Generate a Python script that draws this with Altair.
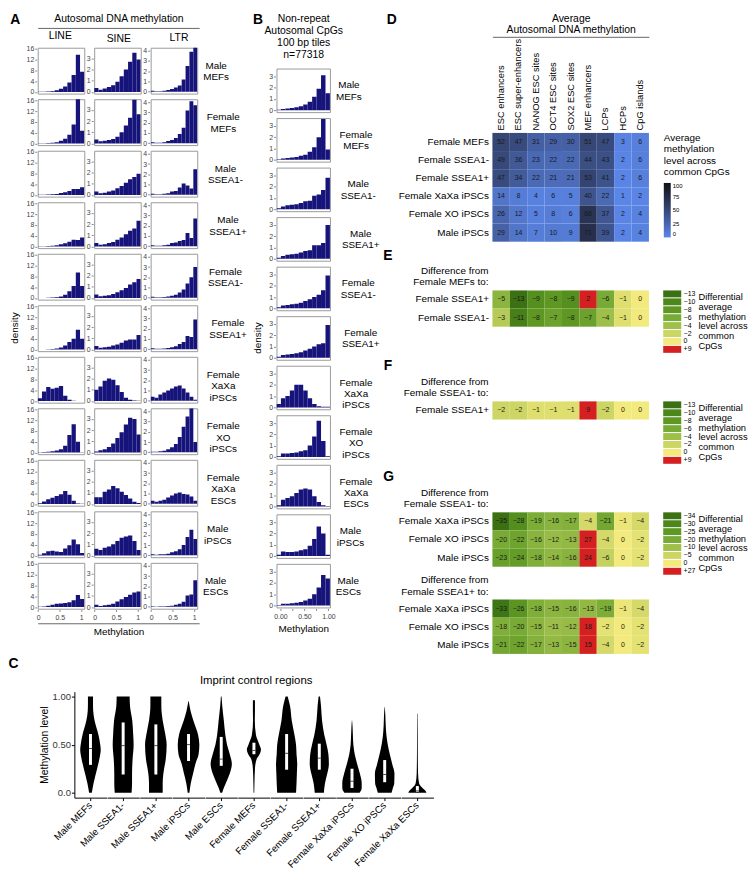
import altair as alt
import numpy as np
import pandas as pd

FONT = "Liberation Sans"
NAVY = "#16137a"

SAMPLES = ["Male MEFs", "Female MEFs", "Male SSEA1-", "Male SSEA1+", "Female SSEA1-",
           "Female SSEA1+", "Female XaXa iPSCs", "Female XO iPSCs", "Female XaXa ESCs",
           "Male iPSCs", "Male ESCs"]

# ---------------- Panel A : histogram heights (density) ----------------
LINE_D = {
    "Male MEFs":         [0.1, 0.1, 0.2, 0.3, 0.6, 1.2, 2.0, 3.5, 6.3, 13.8, 7.5],
    "Female MEFs":       [0.1, 0.1, 0.2, 0.3, 0.5, 1.0, 1.8, 3.2, 7.0, 17.5, 4.7],
    "Male SSEA1-":       [0.1, 0.1, 0.2, 0.3, 0.4, 0.7, 1.0, 1.5, 2.2, 2.2, 2.9],
    "Male SSEA1+":       [0.1, 0.1, 0.2, 0.3, 0.5, 0.8, 1.2, 1.8, 2.5, 2.4, 3.3],
    "Female SSEA1-":     [0.05, 0.05, 0.1, 0.2, 0.3, 0.6, 1.2, 2.5, 4.5, 9.5, 4.5],
    "Female SSEA1+":     [0.05, 0.05, 0.1, 0.2, 0.4, 0.8, 1.5, 2.8, 4.0, 7.3, 4.0],
    "Female XaXa iPSCs": [1.0, 3.5, 5.2, 4.6, 4.9, 5.6, 2.0, 0.5, 0.1, 0.05, 0.02],
    "Female XO iPSCs":   [0.1, 0.2, 0.3, 0.5, 0.8, 1.2, 2.5, 6.5, 10.5, 4.0, 0.1],
    "Female XaXa ESCs":  [0.3, 1.0, 1.8, 2.3, 3.0, 3.6, 4.8, 3.5, 1.2, 0.2, 0.1],
    "Male iPSCs":        [0.3, 0.9, 1.6, 1.8, 1.5, 1.3, 2.6, 3.8, 6.0, 4.2, 1.0],
    "Male ESCs":         [0.1, 0.2, 0.5, 0.9, 1.2, 1.3, 1.5, 1.8, 2.5, 4.5, 3.0],
}
SINE_D = {
    "Male MEFs":         [0.35, 0.2, 0.3, 0.45, 0.6, 0.9, 1.4, 2.0, 2.7, 3.5, 2.9],
    "Female MEFs":       [0.35, 0.2, 0.25, 0.3, 0.4, 0.6, 1.0, 1.6, 2.3, 3.9, 2.6],
    "Male SSEA1-":       [0.3, 0.15, 0.2, 0.3, 0.4, 0.6, 0.8, 1.1, 1.4, 1.6, 1.9],
    "Male SSEA1+":       [0.3, 0.15, 0.2, 0.3, 0.4, 0.6, 0.8, 1.1, 1.4, 1.6, 2.3],
    "Female SSEA1-":     [0.3, 0.15, 0.2, 0.25, 0.35, 0.5, 0.7, 0.9, 1.2, 1.4, 1.7],
    "Female SSEA1+":     [0.3, 0.15, 0.2, 0.25, 0.35, 0.45, 0.6, 0.8, 0.9, 0.9, 1.3],
    "Female XaXa iPSCs": [1.0, 1.3, 1.8, 2.0, 1.9, 1.4, 0.8, 0.3, 0.1, 0.05, 0.02],
    "Female XO iPSCs":   [0.1, 0.2, 0.3, 0.5, 0.8, 1.3, 1.8, 2.5, 3.1, 3.0, 1.6],
    "Female XaXa ESCs":  [0.6, 0.6, 1.1, 1.3, 1.6, 1.4, 1.1, 0.8, 0.5, 0.2, 0.1],
    "Male iPSCs":        [0.6, 0.5, 0.7, 0.8, 1.0, 1.3, 1.6, 1.7, 1.8, 1.3, 0.5],
    "Male ESCs":         [0.2, 0.1, 0.15, 0.2, 0.3, 0.5, 0.7, 0.9, 1.1, 1.3, 1.4],
}
LTR_D = {
    "Male MEFs":         [0.1, 0.05, 0.05, 0.1, 0.15, 0.25, 0.4, 0.6, 1.2, 2.5, 3.9, 4.5],
    "Female MEFs":       [0.1, 0.05, 0.05, 0.1, 0.2, 0.3, 0.5, 0.9, 1.5, 3.2, 4.1, 3.7],
    "Male SSEA1-":       [0.1, 0.05, 0.05, 0.1, 0.15, 0.3, 0.35, 0.7, 1.1, 0.9, 0.6, 2.5],
    "Male SSEA1+":       [0.1, 0.05, 0.05, 0.1, 0.15, 0.3, 0.35, 0.5, 0.6, 1.3, 0.8, 2.7],
    "Female SSEA1-":     [0.1, 0.05, 0.05, 0.08, 0.12, 0.2, 0.3, 0.5, 0.8, 1.4, 2.0, 3.0],
    "Female SSEA1+":     [0.1, 0.05, 0.05, 0.08, 0.12, 0.2, 0.3, 0.5, 0.7, 1.3, 1.2, 2.9],
    "Female XaXa iPSCs": [0.4, 0.3, 0.6, 0.8, 1.0, 1.2, 1.4, 1.5, 1.2, 0.8, 0.4, 0.1],
    "Female XO iPSCs":   [0.05, 0.05, 0.1, 0.15, 0.3, 0.5, 0.8, 1.5, 2.5, 3.5, 4.3, 1.0],
    "Female XaXa ESCs":  [0.3, 0.2, 0.3, 0.4, 0.6, 0.8, 1.0, 1.1, 0.95, 0.9, 0.7, 0.3],
    "Male iPSCs":        [0.1, 0.05, 0.1, 0.1, 0.15, 0.3, 0.4, 0.6, 1.0, 1.8, 2.5, 1.6],
    "Male ESCs":         [0.05, 0.03, 0.05, 0.05, 0.08, 0.1, 0.2, 0.3, 0.5, 1.1, 1.2, 2.6],
}
# ---------------- Panel B ----------------
NONREP_D = {
    "Male MEFs":         [0.05, 0.1, 0.15, 0.2, 0.25, 0.35, 0.5, 0.75, 1.2, 1.9, 3.1, 1.5],
    "Female MEFs":       [0.05, 0.1, 0.15, 0.2, 0.25, 0.35, 0.45, 0.7, 1.1, 2.0, 3.6, 0.9],
    "Male SSEA1-":       [0.1, 0.25, 0.35, 0.4, 0.45, 0.55, 0.7, 0.75, 1.2, 1.3, 1.7, 2.8],
    "Male SSEA1+":       [0.1, 0.25, 0.35, 0.4, 0.45, 0.55, 0.7, 0.75, 1.2, 1.2, 1.4, 3.0],
    "Female SSEA1-":     [0.1, 0.25, 0.3, 0.35, 0.4, 0.5, 0.65, 0.8, 1.0, 1.2, 1.6, 2.9],
    "Female SSEA1+":     [0.1, 0.25, 0.3, 0.35, 0.4, 0.5, 0.65, 0.8, 1.0, 1.2, 1.3, 2.9],
    "Female XaXa iPSCs": [0.3, 0.8, 1.0, 1.5, 2.0, 2.0, 1.5, 0.8, 0.3, 0.1, 0.05, 0.05],
    "Female XO iPSCs":   [0.05, 0.3, 0.3, 0.35, 0.4, 0.5, 0.6, 1.0, 1.8, 3.2, 1.4, 0.05],
    "Female XaXa ESCs":  [0.1, 0.6, 0.75, 0.9, 1.2, 1.5, 1.6, 1.5, 0.9, 0.4, 0.1, 0.05],
    "Male iPSCs":        [0.1, 0.4, 0.35, 0.35, 0.4, 0.5, 0.6, 0.9, 1.5, 2.6, 2.0, 0.1],
    "Male ESCs":         [0.05, 0.15, 0.15, 0.2, 0.25, 0.3, 0.45, 0.6, 1.0, 1.6, 2.7, 2.4],
}

# ---------------- Panel C : violins ----------------
VSAMPLES = ["Male MEFs", "Male SSEA1-", "Male SSEA1+", "Male iPSCs", "Male ESCs",
            "Female MEFs", "Female SSEA1-", "Female SSEA1+", "Female XaXa iPSCs",
            "Female XO iPSCs", "Female XaXa ESCs"]
VIOLIN_Y = {
    "Male MEFs":         [0, 0.1, 0.25, 0.35, 0.45, 0.5, 0.6, 0.75, 0.85, 0.92, 1.0],
    "Male SSEA1-":       [0, 0.1, 0.2, 0.35, 0.5, 0.6, 0.75, 0.9, 1.0],
    "Male SSEA1+":       [0, 0.1, 0.2, 0.35, 0.5, 0.6, 0.75, 0.9, 1.0],
    "Male iPSCs":        [0, 0.1, 0.2, 0.3, 0.4, 0.5, 0.6, 0.75, 0.85, 0.95],
    "Male ESCs":         [0, 0.05, 0.1, 0.2, 0.3, 0.4, 0.5, 0.6, 0.75, 0.9, 1.0],
    "Female MEFs":       [0, 0.1, 0.25, 0.35, 0.4, 0.45, 0.5, 0.6, 0.75, 0.85, 0.96],
    "Female SSEA1-":     [0, 0.1, 0.2, 0.3, 0.4, 0.5, 0.6, 0.75, 0.9, 1.0],
    "Female SSEA1+":     [0, 0.1, 0.2, 0.3, 0.4, 0.5, 0.6, 0.75, 0.9, 1.0],
    "Female XaXa iPSCs": [0, 0.05, 0.1, 0.2, 0.3, 0.4, 0.5, 0.6, 0.7, 0.75],
    "Female XO iPSCs":   [0, 0.05, 0.1, 0.2, 0.3, 0.4, 0.5, 0.6, 0.7, 0.8, 0.89],
    "Female XaXa ESCs":  [0, 0.02, 0.05, 0.1, 0.2, 0.4, 0.6, 0.82],
}
VIOLIN_W = {
    "Male MEFs":         [2, 4.5, 9.7, 13, 15, 14.3, 11.7, 6, 4, 3.7, 3.7],
    "Male SSEA1-":       [12.3, 13, 13, 13.8, 15.3, 14.7, 13.3, 10, 9.5],
    "Male SSEA1+":       [10, 10, 11, 14.5, 15.8, 14, 10, 8, 8],
    "Male iPSCs":        [1.3, 3.3, 6.7, 10, 14.7, 15.8, 14, 7, 3, 0.3],
    "Male ESCs":         [1.3, 3.7, 6.7, 12.5, 15.5, 12.5, 8.5, 6, 3.8, 1.5, 0.5],
    "Female MEFs":       [0.5, 0.8, 1.5, 4, 8.3, 10.3, 8, 3, 1.3, 1.5, 1.5],
    "Female SSEA1-":     [13.8, 14.5, 15, 15.5, 14.5, 13.8, 11.5, 7.5, 5, 1.5],
    "Female SSEA1+":     [6.7, 8.3, 11.7, 14, 13.3, 10.7, 7.3, 4, 2.5, 1],
    "Female XaXa iPSCs": [11.2, 14.2, 14.2, 11.5, 7.5, 4, 2, 1.3, 0.7, 0.2],
    "Female XO iPSCs":   [10, 12, 14, 14.3, 11, 7.5, 4.5, 2.5, 1.5, 1, 0.2],
    "Female XaXa ESCs":  [13.3, 12, 7.5, 2.5, 1, 0.6, 0.5, 0.3],
}
BOX_Q1 = [0.29, 0.19, 0.19, 0.33, 0.28, 0.40, 0.24, 0.24, 0.05, 0.11, 0.01]
BOX_MED = [0.46, 0.49, 0.49, 0.50, 0.35, 0.44, 0.41, 0.36, 0.12, 0.19, 0.02]
BOX_Q3 = [0.61, 0.73, 0.71, 0.61, 0.58, 0.52, 0.61, 0.51, 0.25, 0.34, 0.07]

# ---------------- Panels D-G : heatmaps ----------------
SITES = ["ESC enhancers", "ESC super-enhancers", "NANOG ESC sites", "OCT4 ESC sites",
         "SOX2 ESC sites", "MEF enhancers", "LCPs", "HCPs", "CpG islands"]
D_ROWS = ["Female MEFs", "Female SSEA1-", "Female SSEA1+", "Female XaXa iPSCs",
          "Female XO iPSCs", "Male iPSCs"]
D_VALS = [[52, 47, 31, 29, 30, 51, 47, 3, 6],
          [49, 36, 23, 22, 22, 44, 43, 2, 6],
          [47, 34, 22, 21, 21, 53, 41, 2, 6],
          [14, 8, 4, 6, 5, 40, 22, 1, 2],
          [26, 12, 5, 8, 6, 68, 37, 2, 4],
          [29, 14, 7, 10, 9, 71, 39, 2, 4]]
E_ROWS = ["Female SSEA1+", "Female SSEA1-"]
E_VALS = [[-5, -13, -9, -8, -9, 2, -6, -1, 0],
          [-3, -11, -8, -7, -8, -7, -4, -1, 0]]
F_ROWS = ["Female SSEA1+"]
F_VALS = [[-2, -2, -1, -1, -1, 9, -2, 0, 0]]
G_ROWS = ["Female XaXa iPSCs", "Female XO iPSCs", "Male iPSCs"]
G1_VALS = [[-35, -28, -19, -16, -17, -4, -21, -1, -4],
           [-20, -22, -16, -12, -13, 27, -4, 0, -2],
           [-23, -24, -18, -14, -16, 24, -6, 0, -2]]
G2_VALS = [[-33, -26, -18, -15, -16, -13, -19, -1, -4],
           [-18, -20, -15, -11, -12, 18, -2, 0, -2],
           [-21, -22, -17, -13, -15, 15, -4, 0, -2]]

EF_STOPS = [-13, -10, -8, -6, -4, -2, 0, 9]
G_STOPS = [-34, -30, -25, -20, -10, -5, 0, 27]
DIFF_COLORS = ["#3b7013", "#4d871b", "#5e9823", "#78ab35", "#9fbf4b", "#cdd564", "#f2ea7c", "#d42020"]
BLUE_RANGE = ["#5b87ea", "#101018"]
LEGEND_TITLE_DIFF = ["Differential", "average", "methylation", "level across", "common", "CpGs"]

LET = dict(fontSize=14, fontWeight="bold")


def spacer(w, h, xaxis=None, yaxis=None):
    return alt.Chart(pd.DataFrame({"v": [0]})).mark_point(opacity=0, size=1).encode(
        x=alt.X("v:Q", scale=alt.Scale(domain=[0, 1]), axis=xaxis),
        y=alt.Y("v:Q", scale=alt.Scale(domain=[0, 1]), axis=yaxis),
    ).properties(width=w, height=h)


def letter_axis(letter, pad):
    return alt.Axis(orient="left", domain=False, ticks=False, labels=False, grid=False,
                    title=letter, titleAngle=0, titleAlign="right",
                    titleBaseline="top", titlePadding=pad, minExtent=0,
                    titleFontSize=14, titleFontWeight="bold")


def text_axis(lines, lh=12):
    return alt.Axis(orient="bottom", domain=False, ticks=False, labels=False, grid=False,
                    title=lines, titleFontSize=10.5, titleFontWeight="normal", titlePadding=1,
                    titleLineHeight=lh, minExtent=0)


LINE_AXIS = alt.Axis(orient="bottom", domain=True, domainColor="#666", ticks=False, labels=False,
                     grid=False, title=None, minExtent=0)


def hist_frame(table, lo, hi):
    recs = []
    for s in SAMPLES:
        vals = table[s]
        edges = np.linspace(lo, hi, len(vals) + 1)
        for i, v in enumerate(vals):
            recs.append({"sample": s, "x0": edges[i], "x1": edges[i + 1], "d": v})
    return pd.DataFrame(recs)


def hist_panel(table, xdom, xvals, xfmt, ydom, yvals, w, h, col_title, title_dx, row_title,
               xtitle, labels, label_pad):
    df = hist_frame(table, xdom[0], xdom[1])
    base = alt.Chart(df).mark_rect(color=NAVY, clip=True).encode(
        x=alt.X("x0:Q", scale=alt.Scale(domain=xdom, nice=False, zero=False),
                axis=alt.Axis(values=xvals, format=xfmt, title=xtitle, grid=False, domain=False,
                              tickSize=2, labelFontSize=7, labelPadding=2, labelColor="#444",
                              tickColor="#888", titleFontSize=10, titleFontWeight="normal",
                              titlePadding=4, labelFlush=False)),
        x2="x1:Q",
        y=alt.Y("d:Q", scale=alt.Scale(domain=ydom, nice=False, zero=False),
                axis=alt.Axis(values=yvals, title=None, grid=False, domain=False, tickSize=2,
                              labelFontSize=7, labelPadding=1, labelColor="#444", tickColor="#888",
                              labelFlush=False)),
        y2=alt.datum(0),
    ).properties(width=w, height=h, view=alt.ViewBackground(stroke="#9a9a9a", strokeWidth=1))
    kw = {}
    if col_title:
        kw["title"] = alt.TitleParams(col_title, anchor="middle", dx=title_dx, fontSize=10.5,
                                      offset=3)
    hdr = dict(labels=labels, labelOrient="right", labelAngle=0, labelAlign="center",
               labelBaseline="bottom", labelPadding=label_pad, labelFontSize=10,
               labelLineHeight=11.5, labelExpr="split(datum.label, ' ')")
    if row_title:
        hdr.update(title=row_title, titleOrient="left", titleFontSize=10,
                   titleFontWeight="normal", titlePadding=-4)
    else:
        hdr.update(title=None)
    return base.facet(row=alt.Row("sample:N", sort=SAMPLES, header=alt.Header(**hdr)),
                      spacing=4, **kw)


A_W, A_H = 47, 46.3
line_c = hist_panel(LINE_D, [-0.01, 1.07], [0, 0.5, 1], "~g", [-0.6, 16.4], [0, 4, 8, 12, 16],
                    A_W, A_H, "LINE", 13, "density", None, False, 0)
sine_c = hist_panel(SINE_D, [-0.01, 1.07], [0, 0.5, 1], "~g", [-0.15, 3.95], [0, 1, 2, 3],
                    A_W, A_H, "SINE", 5, None, None, False, 0)
ltr_c = hist_panel(LTR_D, [-0.01, 1.07], [0, 0.5, 1], "~g", [-0.19, 4.3], [0, 1, 2, 3, 4],
                   A_W, A_H, "LTR", -16, None, None, True, -8)
A_block = alt.hconcat(line_c, sine_c, ltr_c, spacing=1)
A_top = spacer(163, 1, text_axis("Autosomal DNA methylation"), letter_axis("A", 18))
A_line = spacer(163, 1, LINE_AXIS, None)
A_head = alt.vconcat(A_top, A_line, spacing=0)
A_bot = spacer(163, 1, alt.Axis(orient="bottom", domain=True, domainColor="#666", ticks=False,
                               labels=False, grid=False, title="Methylation", titleFontSize=10,
                               titleFontWeight="normal", titlePadding=3, minExtent=0), None)
A_col = alt.vconcat(A_head, A_block, A_bot, spacing=2)

B_facet = hist_panel(NONREP_D, [-0.083, 1.033], [0, 0.25, 0.5, 0.75, 1.0], ".2f", [-0.17, 3.69],
                     [0, 1, 2, 3], 54, 44, None, 0, "density", "Methylation", True, -8)
B_top = spacer(54, 1, text_axis(["Non-repeat", "Autosomal CpGs", "100 bp tiles", "n=77318"]),
               letter_axis("B", 14))
B_col = alt.vconcat(B_top, B_facet, spacing=7)


# ---------------- heatmaps ----------------
def heat_frame(rows, vals):
    recs = []
    for r, v in zip(rows, vals):
        for s, x in zip(SITES, v):
            recs.append({"row": r, "site": s, "value": x})
    return pd.DataFrame(recs)


YAX = dict(ticks=False, domain=False, title=None, labelFontSize=10, labelPadding=4,
           labelColor="black")
CW, RH = 158, 18.3

dfD = heat_frame(D_ROWS, D_VALS)
d_base = alt.Chart(dfD).encode(
    x=alt.X("site:N", sort=SITES,
            axis=alt.Axis(orient="top", labelAngle=270, labelAlign="left", labelBaseline="middle",
                          ticks=False, domain=False, title=None, labelFontSize=9.4, labelPadding=3,
                          labelColor="black")),
    y=alt.Y("row:N", sort=D_ROWS, axis=alt.Axis(**YAX)),
)
d_rect = d_base.mark_rect().encode(
    color=alt.Color("value:Q",
                    scale=alt.Scale(domain=[0, 100], range=BLUE_RANGE, interpolate="lab"),
                    legend=alt.Legend(title=["Average", "methylation", "level across", "common CpGs"],
                                      titleFontSize=10, titleFontWeight="normal", titleLineHeight=11.5,
                                      gradientLength=55, gradientThickness=7, labelFontSize=6,
                                      values=[0, 25, 50, 75, 100], offset=15, titlePadding=6,
                                      gradientStrokeWidth=0)),
)
d_text = d_base.mark_text(fontSize=7, color="#1a1a1a", font=FONT).encode(text="value:Q")
D_chart = alt.layer(d_rect, d_text).properties(width=CW, height=RH * len(D_ROWS))
D_top = spacer(CW, 1, text_axis(["Average", "Autosomal DNA methylation"], 11),
               letter_axis("D", 97))
D_line = spacer(CW, 1, LINE_AXIS, None)
D_block = alt.vconcat(D_top, D_line, D_chart, spacing=0).resolve_scale(color="independent")


def diff_chart(rows, vals, stops, title_lines, show_legend):
    df = heat_frame(rows, vals)
    if show_legend:
        leg = alt.Legend(type="symbol", values=stops,
                         labelExpr="datum.value > 0 ? '+' + datum.label : datum.label",
                         symbolType="M-2.6,-1H2.6V1H-2.6Z", symbolSize=49, symbolStrokeWidth=0,
                         symbolOpacity=1, rowPadding=0, labelFontSize=7, labelOffset=8,
                         symbolOffset=6, title=LEGEND_TITLE_DIFF, titleOrient="right",
                         titleFontSize=9.4, titleFontWeight="normal", titleLineHeight=9.8,
                         titlePadding=3, offset=14)
    else:
        leg = None
    col_stops = stops[:-1] + [0.5] + [stops[-1]]
    col_range = DIFF_COLORS[:-1] + [DIFF_COLORS[-1], DIFF_COLORS[-1]]
    base = alt.Chart(df).encode(
        x=alt.X("site:N", sort=SITES, axis=None),
        y=alt.Y("row:N", sort=rows, axis=alt.Axis(**YAX)),
    )
    rect = base.mark_rect().encode(
        color=alt.Color("value:Q", scale=alt.Scale(domain=col_stops, range=col_range,
                                                   interpolate="lab", clamp=True),
                        legend=leg),
    )
    text = base.mark_text(fontSize=7, color="#1a1a1a", font=FONT).encode(text="value:Q")
    return alt.layer(rect, text).properties(
        width=CW, height=RH * len(rows),
        title=alt.TitleParams(title_lines, anchor="start", align="right", frame="group", dx=-4,
                              fontSize=10, fontWeight="normal", offset=3, lineHeight=11.2))


E_chart = diff_chart(E_ROWS, E_VALS, EF_STOPS, ["Difference from", "Female MEFs to:"], True)
F_chart = diff_chart(F_ROWS, F_VALS, EF_STOPS, ["Difference from", "Female SSEA1- to:"], True)
G1_chart = diff_chart(G_ROWS, G1_VALS, G_STOPS, ["Difference from", "Female SSEA1- to:"], True)
G2_chart = diff_chart(G_ROWS, G2_VALS, G_STOPS, ["Difference from", "Female SSEA1+ to:"], False)

E_sec = alt.vconcat(E_chart, title=alt.TitleParams("E", anchor="start", dx=-30, **LET))
F_sec = alt.vconcat(F_chart, title=alt.TitleParams("F", anchor="start", dx=-20, **LET))
G_sec = alt.vconcat(G1_chart, G2_chart, spacing=0,
                    title=alt.TitleParams("G", anchor="start", dx=-15, **LET)
                    ).resolve_scale(color="independent")
R_col = alt.vconcat(D_block, E_sec, F_sec, G_sec, spacing=6).resolve_scale(color="independent")

# ---------------- violin panel ----------------
vrecs = []
for s in VSAMPLES:
    for yv, wv in zip(VIOLIN_Y[s], VIOLIN_W[s]):
        vrecs.append({"sample": s, "kind": "v", "level": yv, "w": wv, "nw": -wv})
for s, a, m, b in zip(VSAMPLES, BOX_Q1, BOX_MED, BOX_Q3):
    vrecs.append({"sample": s, "kind": "b", "q1": a, "med": m, "q3": b})
dfV = pd.DataFrame(vrecs)

XV = alt.Scale(domain=[-16.3, 16.3], nice=False, zero=False)
YV = alt.Scale(domain=[-0.05, 1.05], nice=False, zero=False)
yaxis_v = alt.Axis(values=[0, 0.25, 0.5, 0.75, 1.0], grid=False, tickSize=3, domainColor="black",
                   tickColor="black", labelFontSize=9.5, labelColor="#333", labelPadding=1,
                   labelExpr="datum.value == 0 ? '0.0' : format(datum.value, '.2f')",
                   title="Methylation level", titleFontSize=10.5, titleFontWeight="normal",
                   titlePadding=3)
xaxis_v = alt.Axis(values=[0], labels=False, ticks=True, tickSize=3, domain=True, grid=False,
                   title=None, domainColor="black", tickColor="black")

v_area = alt.Chart().transform_filter("datum.kind == 'v'").mark_area(
    orient="horizontal", color="black", interpolate="monotone").encode(
    y=alt.Y("level:Q", scale=YV, axis=yaxis_v),
    x=alt.X("nw:Q", scale=XV, axis=xaxis_v),
    x2="w:Q",
)
v_box = alt.Chart().transform_filter("datum.kind == 'b'").mark_bar(
    size=3, color="white").encode(
    x=alt.datum(0, scale=XV),
    y=alt.Y("q1:Q", scale=YV),
    y2="q3:Q",
)
v_med = alt.Chart().transform_filter("datum.kind == 'b'").mark_tick(
    orient="horizontal", size=3, thickness=1, color="black").encode(
    x=alt.datum(0, scale=XV),
    y=alt.Y("med:Q", scale=YV),
)
C_facet = alt.layer(v_area, v_box, v_med, data=dfV).properties(width=32.5, height=107).facet(
    column=alt.Column("sample:N", sort=VSAMPLES,
                      header=alt.Header(title=None, labelOrient="bottom", labelAngle=315,
                                        labelAlign="right", labelBaseline="middle",
                                        labelFontSize=9.8, labelPadding=3)),
    spacing=0,
    title=alt.TitleParams("Imprint control regions", anchor="middle", dx=20,
                          fontSize=11.5, offset=5),
)
C_row = alt.hconcat(spacer(1, 1), C_facet, spacing=0)
C_sec = alt.vconcat(C_row, title=alt.TitleParams("C", anchor="start", dx=-29, **LET))

AB = alt.hconcat(A_col, B_col, spacing=4)
top_row = alt.hconcat(AB, R_col, spacing=2)
chart = alt.vconcat(top_row, C_sec, spacing=3).properties(
    padding={"left": 0, "top": 0, "right": 0, "bottom": 0}
).configure(font=FONT).configure_view(stroke=None).configure_title(
    font=FONT, fontWeight="normal", fontSize=10, color="black"
).configure_axis(labelFont=FONT, titleFont=FONT).configure_header(
    labelFont=FONT, titleFont=FONT).configure_legend(labelFont=FONT, titleFont=FONT)

chart.save("out.html", embed_options={"renderer": "svg", "actions": False})
